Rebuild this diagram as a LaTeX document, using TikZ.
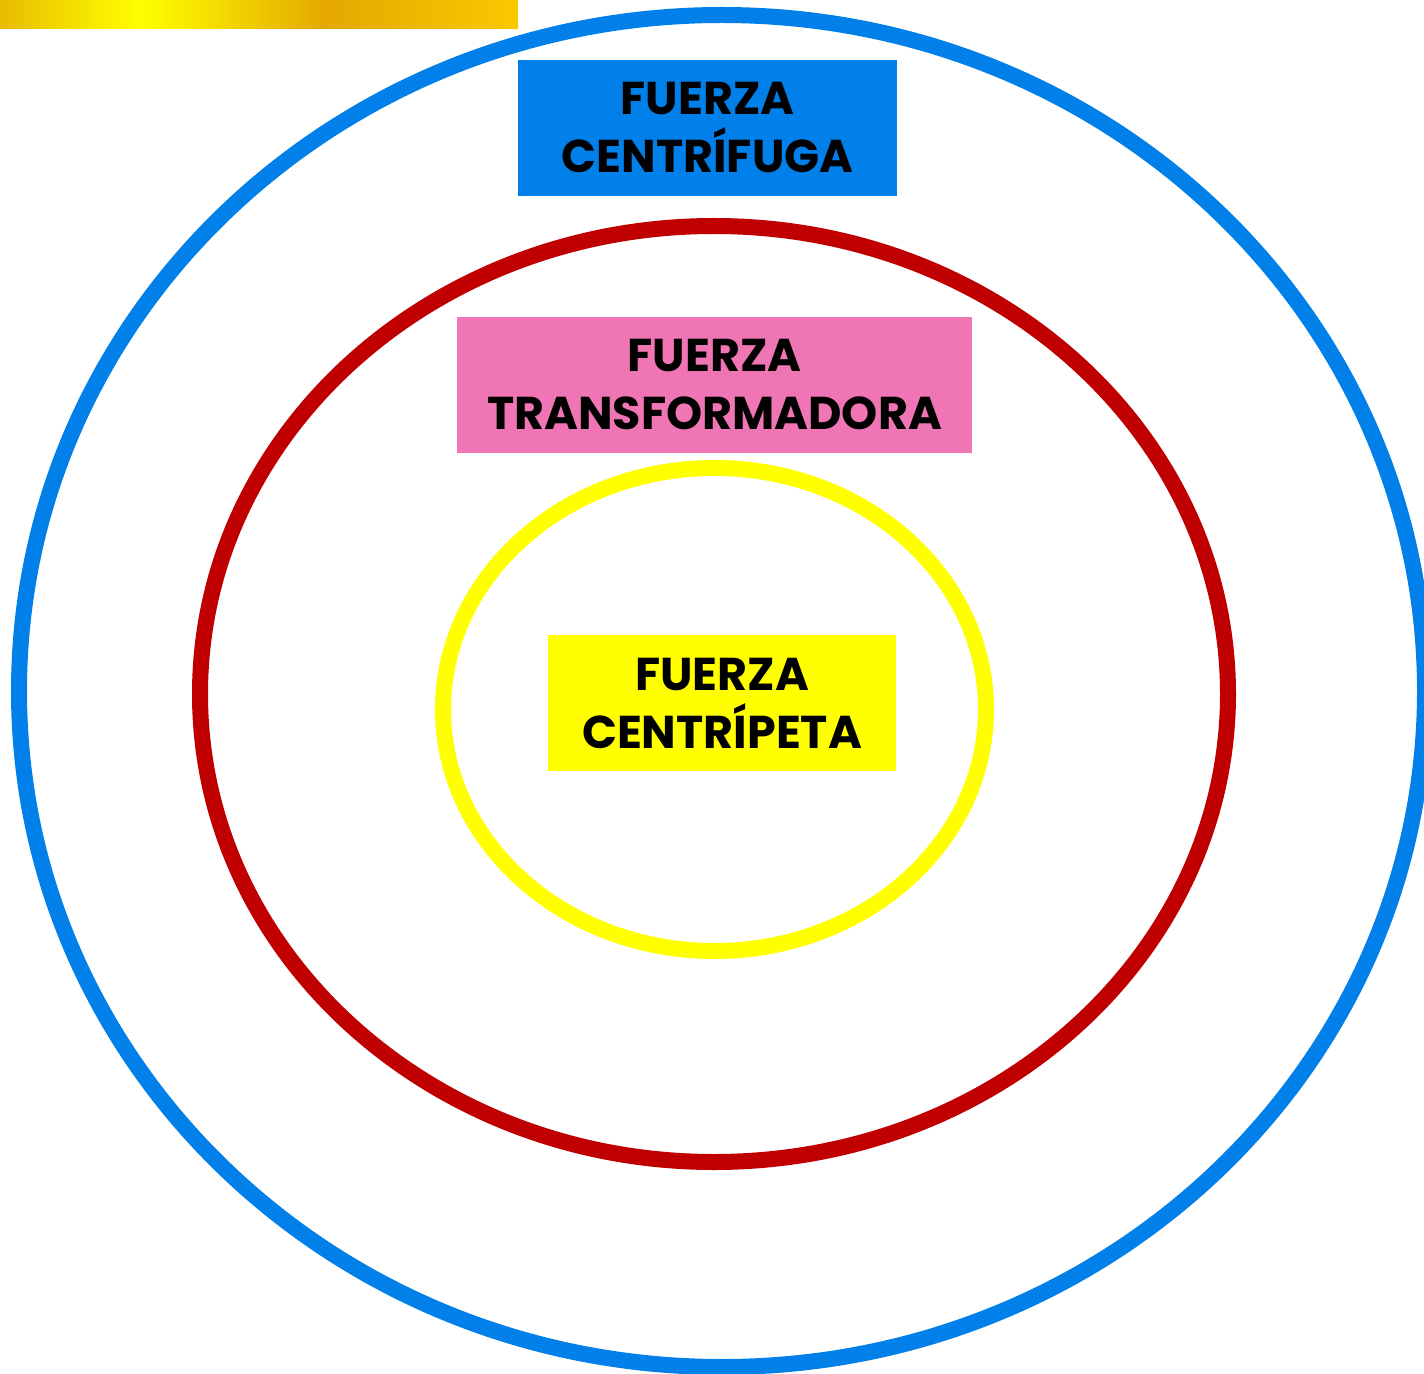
\documentclass[tikz,border=0pt]{standalone}
\usepackage{fontspec}
\setmainfont{Poppins}[BoldFont={* Bold}]
\usetikzlibrary{positioning}

\definecolor{ringblue}{HTML}{0080E8}
\definecolor{ringred}{HTML}{C00000}
\definecolor{ringyellow}{HTML}{FFFF00}
\definecolor{boxpink}{HTML}{F075B4}
\definecolor{gold1}{HTML}{E8BC00}
\definecolor{gold2}{HTML}{FFFF00}
\definecolor{gold3}{HTML}{E4A800}
\definecolor{gold4}{HTML}{FAC800}

\pgfdeclarehorizontalshading{goldbar}{100bp}{color(0bp)=(gold1); color(25bp)=(gold1); color(38.5bp)=(gold2); color(56.4bp)=(gold3); color(75bp)=(gold4); color(100bp)=(gold4)}

\begin{document}
\begin{tikzpicture}[
    x=0.5pt, y=-0.5pt,
    ring/.style={line width=8pt},
    label_box/.style={rectangle, inner sep=0pt, text centered, align=center, font=\bfseries\fontsize{23}{29}\selectfont, text=black}
]
\useasboundingbox (0,0) rectangle (1424,1374);
% Top left bar
\shade[shading=goldbar] (0,0) rectangle (518,29);
% Rings
\draw[ring, draw=ringblue] (722,691) ellipse (703 and 676);
\draw[ring, draw=ringred] (714,694) ellipse (514 and 468);
\draw[ring, draw=ringyellow] (714.5,709.5) ellipse (271.5 and 241.5);
% Labels
\node[label_box, fill=ringblue, minimum width=189.5pt, minimum height=68pt] (centrifuga) at (707.5,128) {FUERZA\\CENTRÍFUGA};
\node[label_box, fill=boxpink, minimum width=257.5pt, minimum height=68pt] (transformadora) at (714.5,385) {FUERZA\\TRANSFORMADORA};
\node[label_box, fill=ringyellow, minimum width=174pt, minimum height=68pt] (centripeta) at (722,703) {FUERZA\\CENTRÍPETA};
\end{tikzpicture}
\end{document}
